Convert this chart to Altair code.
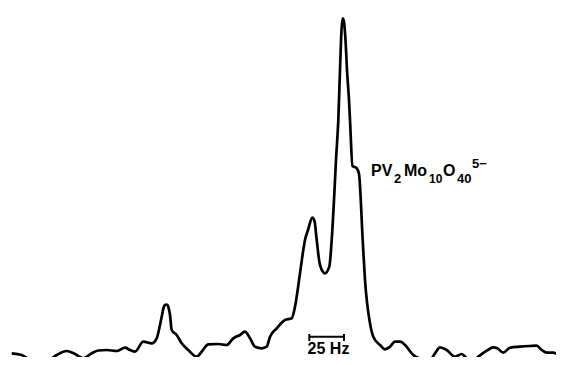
import altair as alt
import pandas as pd

# Trace of the spectrum: horizontal position (arbitrary shift units) and intensity (arbitrary units)
shift = [11.7, 21.7, 30, 36.7, 46.7, 56.7, 66.7, 75, 83.3, 91.7, 98.3, 106.7, 116.7, 125, 130, 135,
         143.3, 151.7, 156.7, 160, 161.7, 163.5, 165, 166.8, 168.3, 170, 171.7, 176.7, 181.7, 188.3,
         196.7, 201.7, 208.3, 218.3, 226.7, 233.3, 240, 245, 250, 255, 261.7, 266.7, 270, 276.7, 285,
         291.7, 295, 300, 303.3, 305, 308, 312.3, 314.5, 316.7, 320, 325, 329.3, 331.7, 334, 336,
         338.3, 340, 341.5, 342.7, 344, 345.5, 347, 349, 350, 352.5, 356.5, 359, 362.7, 365, 370,
         373.3, 380, 385, 390, 395, 400, 403.3, 413.3, 421.7, 430, 435, 440, 446.7, 455, 461.7,
         466.7, 471.7, 478.3, 486.7, 493.3, 497.3, 503.3, 510, 520, 530, 536.7, 541.7, 546.7, 553.3,
         560, 563.3]
intensity = [11.7, 10, 5, 1, 3.3, 10, 14, 11, 6.7, 11.7, 14.5, 15, 14, 17.3, 15, 13.3,
             23.3, 21.7, 26.7, 40, 48.3, 57, 60, 60.5, 58.3, 50, 35, 30, 21.7, 15,
             8.3, 13.3, 20.7, 21, 20, 26.7, 30, 33.3, 26.7, 18.3, 16.7, 18.3, 28.3, 36.7, 45,
             46.7, 58.3, 91.7, 115, 125, 135, 147.3, 144, 125, 100, 91.7, 98.3, 125, 165, 205,
             245, 295, 335, 346.7, 343, 325, 295, 265, 245, 199, 197, 191, 125, 85, 41.7,
             28.3, 20, 15.7, 18.3, 23.3, 23.3, 21.7, 10, 6, 5, 11.7, 17.7, 15, 8.3, 11,
             6.7, 3.3, 8.3, 14.3, 17.7, 16.7, 12.3, 17.3, 18.3, 19, 19.3, 15, 12.3, 12.3,
             10, 9.7]

# Scale bar (25 Hz)
bar_start = [309.3]
bar_end = [344.0]
bar_level = [28.3]
bar_tick_low = [24.0]
bar_tick_high = [31.0]
bar_label = ["25 Hz"]
bar_label_x = [328.5]
bar_label_y = [11.0]

# Species label pieces: text, position, font size
label_text = ["PV", "2", "Mo", "10", "O", "40", "5\u2212"]
label_x = [371, 394, 404, 429, 443, 457, 472]
label_y = [189, 182, 189, 182, 189, 182, 197]
label_size = [16, 13, 16, 12, 16, 13, 13]

FONT = "Liberation Sans"

xs = alt.Scale(domain=[8, 556], nice=False, zero=False)
ys = alt.Scale(domain=[8, 357], nice=False, zero=False)

trace = pd.DataFrame({"shift": shift, "intensity": intensity, "order": range(len(shift))})

line = alt.Chart(trace).mark_line(color="black", strokeWidth=2.7, interpolate="monotone").encode(
    x=alt.X("shift:Q", scale=xs, axis=None),
    y=alt.Y("intensity:Q", scale=ys, axis=None),
    order="order:Q",
)

bar_df = pd.DataFrame({"x1": bar_start, "x2": bar_end, "y": bar_level})
bar = alt.Chart(bar_df).mark_rule(color="black", strokeWidth=2).encode(
    x=alt.X("x1:Q", scale=xs, axis=None),
    x2="x2:Q",
    y=alt.Y("y:Q", scale=ys, axis=None),
)

ticks_df = pd.DataFrame({"x": bar_start + bar_end,
                         "lo": bar_tick_low * 2,
                         "hi": bar_tick_high * 2})
ticks = alt.Chart(ticks_df).mark_rule(color="black", strokeWidth=2).encode(
    x=alt.X("x:Q", scale=xs, axis=None),
    y=alt.Y("lo:Q", scale=ys, axis=None),
    y2="hi:Q",
)

bar_text_df = pd.DataFrame({"t": bar_label, "x": bar_label_x, "y": bar_label_y})
bar_text = alt.Chart(bar_text_df).mark_text(
    font=FONT, fontSize=16, fontWeight="bold", align="center", baseline="alphabetic", color="black"
).encode(
    x=alt.X("x:Q", scale=xs, axis=None),
    y=alt.Y("y:Q", scale=ys, axis=None),
    text="t:N",
)

lab_df = pd.DataFrame({"t": label_text, "x": label_x, "y": label_y, "s": label_size})
labels = alt.Chart(lab_df).mark_text(
    font=FONT, fontWeight="bold", align="left", baseline="alphabetic", color="black"
).encode(
    x=alt.X("x:Q", scale=xs, axis=None),
    y=alt.Y("y:Q", scale=ys, axis=None),
    text="t:N",
    size=alt.Size("s:Q", scale=None, legend=None),
)

chart = alt.layer(line, bar, ticks, bar_text, labels).properties(
    width=548, height=349,
    autosize=alt.AutoSizeParams(type="none"),
    padding=0,
    background="white",
).configure_view(stroke=None)

chart.save("out.html", embed_options={"renderer": "svg", "actions": False})
